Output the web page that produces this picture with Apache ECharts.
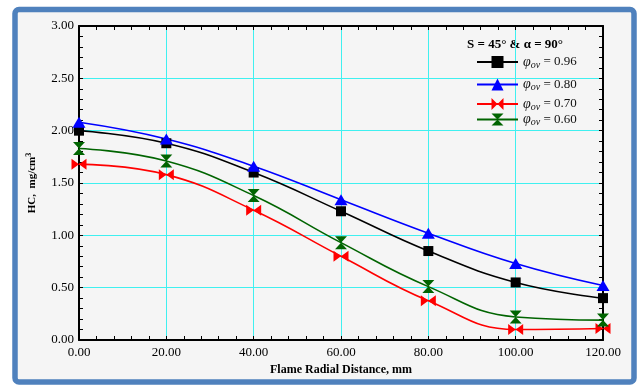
<!DOCTYPE html>
<html><head><meta charset="utf-8">
<script src="https://cdn.jsdelivr.net/npm/echarts@6/dist/echarts.min.js"></script>
<style>html,body{margin:0;padding:0;background:#fff}#c{width:641px;height:385px}</style>
</head><body><div id="c"></div>
<script>
var xValues = [0, 20, 40, 60, 80, 100, 120];
var seriesNames = ['0.96', '0.80', '0.70', '0.60'];
var phi096 = [2.00, 1.88, 1.60, 1.23, 0.85, 0.55, 0.40];
var phi080 = [2.08, 1.92, 1.66, 1.34, 1.02, 0.73, 0.52];
var phi070 = [1.68, 1.58, 1.24, 0.80, 0.375, 0.10, 0.11];
var phi060 = [1.83, 1.71, 1.38, 0.93, 0.51, 0.22, 0.19];
var xTitle = 'Flame Radial Distance, mm';
var legendTitle = 'S = 45° & α = 90°';

var serif = '"Liberation Serif","DejaVu Serif",serif';
var colors = ['#000000', '#0000ff', '#ff0000', '#006400'];
var symbols = [
  'rect',
  'triangle',
  'path://M0,0 L10,5 L0,10 Z M20,0 L20,10 L10,5 Z',
  'path://M0,0 L10,0 L5,10 Z M0,20 L10,20 L5,10 Z'
];
var symbolSizes = [[10,10],[13,11],[15,11],[12,13]];
var datasets = [phi096, phi080, phi070, phi060];

function pairs(arr){ return xValues.map(function(x,i){ return [x, arr[i]]; }); }

var series = datasets.map(function(d, i){
  return {
    name: seriesNames[i], type: 'line', data: pairs(d), smooth: 0.45,
    xAxisIndex: 0, yAxisIndex: 0,
    symbol: symbols[i], symbolSize: symbolSizes[i], showAllSymbol: true,
    lineStyle: {color: colors[i], width: 1.6},
    itemStyle: {color: colors[i]},
    clip: false
  };
});

var legendTops = [55, 77.5, 97, 112.5];
var legends = seriesNames.map(function(n, i){
  return {
    data: [n], left: 476, top: legendTops[i], orient: 'vertical',
    itemWidth: 41, itemHeight: 15, padding: 0,
    formatter: function(name){ return '{p|φ}{s|ov}{n| = ' + name + '}'; },
    textStyle: {
      rich: {
        p: {fontFamily: serif, fontStyle: 'italic', fontSize: 14, color: '#111'},
        s: {fontFamily: serif, fontStyle: 'italic', fontSize: 10, color: '#111', padding: [6,0,0,0]},
        n: {fontFamily: serif, fontSize: 13, color: '#111'}
      }
    }
  };
});

var axisLine = {show: true, onZero: false, lineStyle: {color: '#000', width: 2}};
function tickAxis(pos, min, max, interval){
  return {
    type: 'value', position: pos, min: min, max: max, interval: interval,
    axisLine: {show: false, onZero: false},
    axisTick: {show: true, inside: true, length: 4, lineStyle: {color: '#000', width: 1}},
    axisLabel: {show: false}, splitLine: {show: false}, minorTick: {show: false}
  };
}
var chart = echarts.init(document.getElementById('c'));
chart.setOption({
  animation: false,
  backgroundColor: '#ffffff',
  graphic: [
    {type: 'rect', z: -10, shape: {x: 15, y: 9.5, width: 619, height: 372.5, r: 4},
     style: {fill: '#f5f5f5', stroke: '#4f81bd', lineWidth: 5.5}},
    {type: 'text', left: 467, top: 38,
     style: {text: legendTitle, font: 'bold 13px ' + serif, fill: '#000'}}
  ],
  grid: {left: 79, right: 38, top: 26, bottom: 45},
  legend: legends,
  xAxis: [{
    type: 'value', position: 'bottom', min: 0, max: 120, interval: 20,
    axisLine: axisLine,
    axisTick: {show: false},
    axisLabel: {formatter: function(v){ return v.toFixed(2); }, fontFamily: serif, fontSize: 13, color: '#000', margin: 6},
    splitLine: {show: true, lineStyle: {color: '#3ff0f0', width: 1}},
    name: xTitle, nameLocation: 'middle', nameGap: 23,
    nameTextStyle: {fontFamily: serif, fontWeight: 'bold', fontSize: 12, color: '#000'}
  }, {
    type: 'value', position: 'top', min: 0, max: 120, interval: 20,
    axisLine: axisLine, axisTick: {show: false},
    axisLabel: {show: false}, splitLine: {show: false}
  },
  tickAxis('bottom', 0, 120, 4),
  tickAxis('top', 0, 120, 4)
  ],
  yAxis: [{
    type: 'value', position: 'left', min: 0, max: 3, interval: 0.5,
    axisLine: axisLine,
    axisTick: {show: false},
    axisLabel: {formatter: function(v){ return v.toFixed(2); }, fontFamily: serif, fontSize: 13, color: '#000', margin: 5},
    splitLine: {show: true, lineStyle: {color: '#3ff0f0', width: 1}},
    name: '{a|HC,  mg/cm}{b|3}', nameLocation: 'middle', nameGap: 40, nameRotate: 90,
    nameTextStyle: {
      rich: {
        a: {fontFamily: serif, fontWeight: 'bold', fontSize: 11, color: '#000'},
        b: {fontFamily: serif, fontWeight: 'bold', fontSize: 8, color: '#000', padding: [0,0,6,0]}
      }
    }
  }, {
    type: 'value', position: 'right', min: 0, max: 3, interval: 0.5,
    axisLine: axisLine, axisTick: {show: false},
    axisLabel: {show: false}, splitLine: {show: false}
  },
  tickAxis('left', 0, 3, 0.1),
  tickAxis('right', 0, 3, 0.1)
  ],
  series: series
});
</script></body></html>
